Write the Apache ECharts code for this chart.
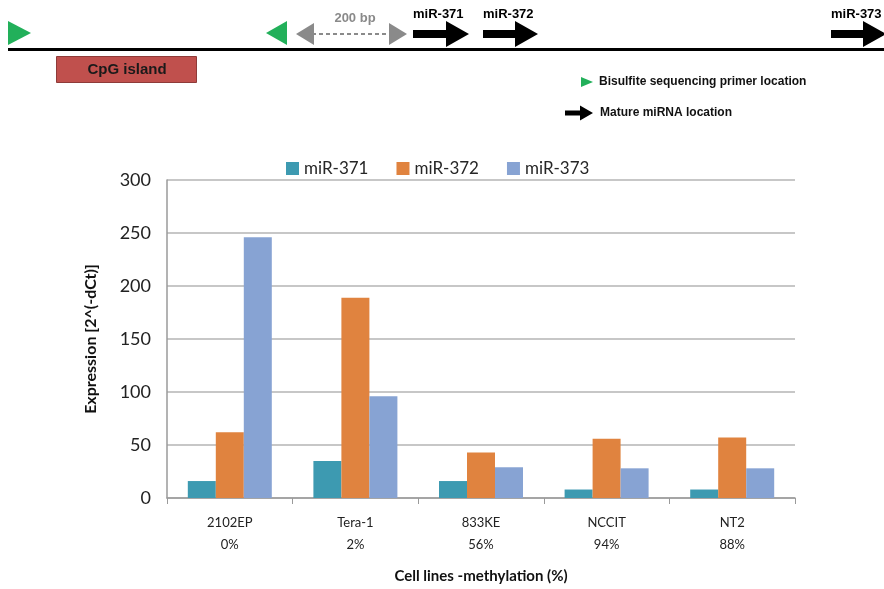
<!DOCTYPE html>
<html>
<head>
<meta charset="utf-8">
<script src="https://cdn.jsdelivr.net/npm/echarts@6/dist/echarts.min.js"></script>
<style>html,body{margin:0;padding:0;background:#fff;}#c{width:884px;height:589px;}</style>
</head>
<body>
<div id="c"></div>
<script>
var categories = ['2102EP\n0%', 'Tera-1\n2%', '833KE\n56%', 'NCCIT\n94%', 'NT2\n88%'];
var seriesNames = ['miR-371', 'miR-372', 'miR-373'];
var mir371 = [16, 35, 16, 8, 8];
var mir372 = [62, 189, 43, 56, 57];
var mir373 = [246, 96, 29, 28, 28];
var yTicks = [0, 50, 100, 150, 200, 250, 300];

var colors = ['#3D9AB1', '#E0833F', '#87A3D3'];
var chart = echarts.init(document.getElementById('c'));

function arrowPts(x0, x1, y, shaftH, headW, headH) {
  var hx = x1 - headW;
  return [[x0, y - shaftH / 2], [hx, y - shaftH / 2], [hx, y - headH / 2], [x1, y],
          [hx, y + headH / 2], [hx, y + shaftH / 2], [x0, y + shaftH / 2]];
}
var dFont = 'Liberation Sans, Arial, sans-serif';
var graphic = [
  {type: 'line', shape: {x1: 8, y1: 49.5, x2: 884, y2: 49.5}, style: {stroke: '#000', lineWidth: 3}},
  {type: 'polygon', shape: {points: [[8, 21], [31, 33], [8, 45]]}, style: {fill: '#22B05A'}},
  {type: 'polygon', shape: {points: [[287, 21], [266, 33], [287, 45]]}, style: {fill: '#22B05A'}},
  {type: 'line', shape: {x1: 312, y1: 34, x2: 390, y2: 34}, style: {stroke: '#8A8A8A', lineWidth: 2, lineDash: [4, 3]}},
  {type: 'polygon', shape: {points: [[296, 34], [314, 23], [314, 45]]}, style: {fill: '#8A8A8A'}},
  {type: 'polygon', shape: {points: [[407, 34], [389, 23], [389, 45]]}, style: {fill: '#8A8A8A'}},
  {type: 'text', x: 355, y: 18, style: {text: '200 bp', fill: '#8A8A8A', font: 'bold 13px ' + dFont, textAlign: 'center', textVerticalAlign: 'middle'}},
  {type: 'polygon', shape: {points: arrowPts(413, 469, 34, 8, 23, 26)}, style: {fill: '#000'}},
  {type: 'text', x: 413, y: 14, style: {text: 'miR-371', fill: '#000', font: 'bold 13px ' + dFont, textAlign: 'left', textVerticalAlign: 'middle'}},
  {type: 'polygon', shape: {points: arrowPts(483, 538, 34, 8, 23, 26)}, style: {fill: '#000'}},
  {type: 'text', x: 483, y: 14, style: {text: 'miR-372', fill: '#000', font: 'bold 13px ' + dFont, textAlign: 'left', textVerticalAlign: 'middle'}},
  {type: 'polygon', shape: {points: arrowPts(831, 886, 34, 8, 23, 26)}, style: {fill: '#000'}},
  {type: 'text', x: 831, y: 14, style: {text: 'miR-373', fill: '#000', font: 'bold 13px ' + dFont, textAlign: 'left', textVerticalAlign: 'middle'}},
  {type: 'rect', shape: {x: 56.5, y: 56.5, width: 140, height: 26}, style: {fill: '#C0504D', stroke: '#8E3B39', lineWidth: 1}},
  {type: 'text', x: 127, y: 70, style: {text: 'CpG island', fill: '#1a1a1a', font: 'bold 15px ' + dFont, textAlign: 'center', textVerticalAlign: 'middle'}},
  {type: 'polygon', shape: {points: [[581, 77], [593, 82], [581, 87]]}, style: {fill: '#22B05A'}},
  {type: 'text', x: 599, y: 82, style: {text: 'Bisulfite sequencing primer location', fill: '#111', font: 'bold 12px ' + dFont, textAlign: 'left', textVerticalAlign: 'middle'}},
  {type: 'polygon', shape: {points: arrowPts(565, 593, 113, 5, 13, 15)}, style: {fill: '#000'}},
  {type: 'text', x: 600, y: 113, style: {text: 'Mature miRNA location', fill: '#111', font: 'bold 12px ' + dFont, textAlign: 'left', textVerticalAlign: 'middle'}}
];

var cFont = 'Lato, Open Sans, sans-serif';
var option = {
  animation: false,
  backgroundColor: '#fff',
  color: colors,
  textStyle: {fontFamily: cFont},
  graphic: graphic,
  legend: {
    data: seriesNames,
    left: 281, top: 155,
    itemWidth: 13, itemHeight: 13, itemGap: 28,
    icon: 'rect',
    textStyle: {fontSize: 17, color: '#262626', fontFamily: cFont}
  },
  grid: {left: 167, right: 89, top: 180, bottom: 90},
  xAxis: {
    type: 'category',
    data: categories,
    name: 'Cell lines -methylation (%)',
    nameLocation: 'middle',
    nameGap: 71,
    nameTextStyle: {fontSize: 15, fontWeight: 'bold', color: '#111', fontFamily: cFont},
    axisLine: {lineStyle: {color: '#9a9a9a', width: 1.5}},
    axisTick: {show: true, length: 6, lineStyle: {color: '#9a9a9a'}},
    axisLabel: {fontSize: 13, lineHeight: 22, margin: 14, color: '#222', fontFamily: cFont}
  },
  yAxis: {
    type: 'value',
    min: yTicks[0], max: yTicks[yTicks.length - 1], interval: 50,
    name: 'Expression [2^(-dCt)]',
    nameLocation: 'middle',
    nameGap: 68,
    nameRotate: 90,
    nameTextStyle: {fontSize: 16, fontWeight: 'bold', color: '#111', fontFamily: cFont},
    axisLine: {show: true, lineStyle: {color: '#9a9a9a', width: 1.5}},
    axisTick: {show: false},
    splitLine: {lineStyle: {color: '#b5b5b5', width: 1.5}},
    axisLabel: {fontSize: 18, margin: 16, color: '#222', fontFamily: cFont}
  },
  series: [
    {name: seriesNames[0], type: 'bar', data: mir371, barWidth: 28, barGap: '0%'},
    {name: seriesNames[1], type: 'bar', data: mir372, barWidth: 28, barGap: '0%'},
    {name: seriesNames[2], type: 'bar', data: mir373, barWidth: 28, barGap: '0%'}
  ]
};
chart.setOption(option);
</script>
</body>
</html>
